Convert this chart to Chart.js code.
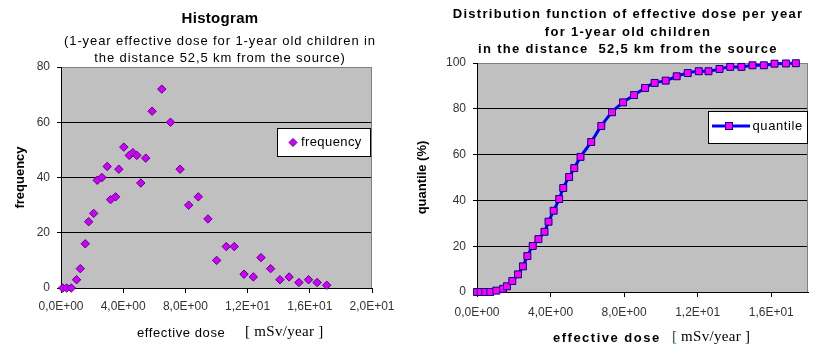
<!DOCTYPE html>
<html><head><meta charset="utf-8">
<script src="https://cdn.jsdelivr.net/npm/chart.js@4.4.1/dist/chart.umd.min.js"></script>
<style>
html,body{margin:0;padding:0;background:#fff;}
#wrap{position:relative;width:821px;height:360px;overflow:hidden;background:#fff;}
#c1{position:absolute;left:0;top:0;}
#c2{position:absolute;left:410px;top:0;}
</style></head><body>
<div id="wrap"><canvas id="c1" width="410" height="360"></canvas><canvas id="c2" width="411" height="360"></canvas></div>
<script>
// ---- data ----
const histDose = [0.11,0.36,0.66,1.0,1.24,1.56,1.78,2.10,2.33,2.63,2.97,3.19,3.51,3.72,4.04,4.39,4.62,4.88,5.13,5.45,5.86,6.48,7.04,7.66,8.21,8.83,9.45,10.01,10.63,11.14,11.77,12.37,12.86,13.48,14.08,14.67,15.3,15.92,16.47,17.09];
const histFrequency = [0,0,0,3,7,16,24,27,39,40,44,32,33,43,51,48,49,48,38,47,64,72,60,43,30,33,25,10,15,15,5,4,11,7,3,4,2,3,2,1];
const quantDose = [0,0.2,0.45,0.72,1.05,1.42,1.63,1.92,2.23,2.5,2.74,3.03,3.34,3.67,3.89,4.17,4.47,4.69,5.01,5.29,5.63,6.21,6.76,7.34,7.94,8.54,9.14,9.66,10.26,10.86,11.46,12.06,12.59,13.19,13.77,14.38,14.98,15.6,16.18,16.8,17.34];
const quantilePct = [0,0,0,0,0.6,1.4,2.5,4.8,7.7,11.2,15.7,20.1,23.1,26.3,30.7,35.5,40.6,45.4,50.2,54.1,59.0,65.5,72.5,78.5,82.8,86.0,89.1,91.3,92.3,94.2,95.6,96.4,96.4,97.4,98.3,98.3,99.0,99.0,99.7,99.8,99.9];
const histXTicks = [0,4,8,12,16,20];
const histXTickLabels = ['0,0E+00','4,0E+00','8,0E+00','1,2E+01','1,6E+01','2,0E+01'];
const histYTicks = [0,20,40,60,80];
const quantXTicks = [0,4,8,12,16];
const quantXTickLabels = ['0,0E+00','4,0E+00','8,0E+00','1,2E+01','1,6E+01'];
const quantYTicks = [0,20,40,60,80,100];

const SANS = "Arial, 'Liberation Sans', sans-serif";
const SERIF = "'Times New Roman', 'Liberation Serif', serif";

function txt(ctx, s, x, y, font, color, align, spacing) {
  ctx.save();
  ctx.font = font; ctx.fillStyle = color; ctx.textAlign = align || 'left'; ctx.textBaseline = 'middle';
  try { ctx.letterSpacing = (spacing || 0) + 'px'; } catch (e) {}
  ctx.fillText(s, x, y);
  ctx.restore();
}

function xScale(max, ticks, labels, pad) {
  return {
    type: 'linear', position: 'bottom', min: 0, max: max,
    afterBuildTicks: s => { s.ticks = ticks.map(v => ({ value: v })); },
    afterFit: s => { s.height = 30; },
    ticks: { callback: (v, i) => labels[i], font: { family: SANS, size: 12 }, color: '#333', padding: pad, maxRotation: 0, autoSkip: false },
    grid: { drawOnChartArea: false, drawTicks: true, tickLength: 5, color: '#000', lineWidth: 1 },
    border: { display: true, color: '#000', width: 1 }
  };
}
function yScale(max, ticks, title, titlePad, width) {
  return {
    type: 'linear', min: 0, max: max,
    afterBuildTicks: s => { s.ticks = ticks.map(v => ({ value: v })); },
    afterFit: s => { s.width = width; },
    ticks: { font: { family: SANS, size: 12 }, color: '#333', padding: 7 },
    grid: { color: c => (c.tick && c.tick.value === max) ? '#808080' : '#000', tickColor: '#000', tickLength: 4, drawTicks: true, lineWidth: 1 },
    border: { display: true, color: '#000', width: 1 },
    title: { display: true, text: title, font: { family: SANS, size: 13, weight: 'bold' }, color: '#000', padding: { top: titlePad, bottom: 0 } }
  };
}

const plotBg = {
  id: 'plotBg',
  beforeDraw(chart) {
    const { ctx, chartArea: a } = chart;
    ctx.save();
    ctx.fillStyle = '#fff'; ctx.fillRect(0, 0, chart.width, chart.height);
    ctx.fillStyle = '#c0c0c0'; ctx.fillRect(a.left, a.top, a.right - a.left, a.bottom - a.top);
    ctx.restore();
  },
  beforeDatasetsDraw(chart) {
    const { ctx, chartArea: a } = chart;
    ctx.save(); ctx.strokeStyle = '#808080'; ctx.lineWidth = 1;
    ctx.beginPath(); ctx.moveTo(Math.round(a.right) - 0.5, a.top); ctx.lineTo(Math.round(a.right) - 0.5, a.bottom); ctx.stroke();
    ctx.restore();
  }
};

// ---- left: histogram ----
const leftDecor = {
  id: 'leftDecor',
  afterDraw(chart) {
    const ctx = chart.ctx;
    txt(ctx, 'Histogram', 220, 19, 'bold 15px ' + SANS, '#000', 'center', 0.3);
    txt(ctx, '(1-year effective dose for 1-year old children in', 220, 41, '13px ' + SANS, '#000', 'center', 0.9);
    txt(ctx, 'the distance 52,5 km from the source)', 220, 58, '13px ' + SANS, '#000', 'center', 0.9);
    txt(ctx, 'effective dose', 137, 333, '13px ' + SANS, '#000', 'left', 0.6);
    txt(ctx, '[ mSv/year ]', 245, 332, '15px ' + SERIF, '#000', 'left', 0.3);
    // legend
    ctx.save();
    ctx.fillStyle = '#fff'; ctx.fillRect(277.5, 128.5, 93, 28);
    ctx.strokeStyle = '#000'; ctx.lineWidth = 1; ctx.strokeRect(277.5, 128.5, 93, 28);
    const ds = chart.data.datasets[0];
    ctx.beginPath(); ctx.moveTo(289, 142.5); ctx.lineTo(293, 138.5); ctx.lineTo(297, 142.5); ctx.lineTo(293, 146.5); ctx.closePath();
    ctx.fillStyle = ds.backgroundColor; ctx.fill(); ctx.strokeStyle = ds.borderColor; ctx.stroke();
    ctx.restore();
    txt(ctx, ds.label, 301, 142.5, '13px ' + SANS, '#000', 'left', 0.4);
  }
};
new Chart(document.getElementById('c1'), {
  type: 'scatter',
  data: { datasets: [{
    label: 'frequency',
    data: histDose.map((x, i) => ({ x: x, y: histFrequency[i] })),
    pointStyle: 'rectRot', pointRadius: 4.2, pointHoverRadius: 4.2,
    backgroundColor: '#d000ff', borderColor: '#5a0080', borderWidth: 1, clip: false
  }]},
  options: {
    responsive: false, animation: false, events: [],
    layout: { padding: { top: 67, left: 0, right: 38, bottom: 42 } },
    plugins: { legend: { display: false }, tooltip: { enabled: false } },
    scales: { x: xScale(20, histXTicks, histXTickLabels, 6), y: yScale(80, histYTicks, 'frequency', 13, 61) }
  },
  plugins: [plotBg, leftDecor]
});

// ---- right: distribution function ----
const rightDecor = {
  id: 'rightDecor',
  afterDraw(chart) {
    const ctx = chart.ctx;
    const f = 'bold 13px ' + SANS;
    txt(ctx, 'Distribution function of effective dose per year', 218, 14, f, '#000', 'center', 1.3);
    txt(ctx, 'for 1-year old children', 218, 32, f, '#000', 'center', 1.3);
    txt(ctx, 'in the distance  52,5 km from the source', 218, 49, f, '#000', 'center', 1.3);
    txt(ctx, 'effective dose', 143, 338, f, '#000', 'left', 1.5);
    txt(ctx, '[', 262, 337, '15px ' + SERIF, '#1a5c1a', 'left', 0);
    txt(ctx, ' mSv/year ]', 267, 337, '15px ' + SERIF, '#000', 'left', 0.3);
    // legend
    const ds = chart.data.datasets[0];
    ctx.save();
    ctx.fillStyle = '#fff'; ctx.fillRect(298.5, 111.5, 99, 32);
    ctx.strokeStyle = '#000'; ctx.lineWidth = 1; ctx.strokeRect(298.5, 111.5, 99, 32);
    ctx.strokeStyle = ds.borderColor; ctx.lineWidth = 3;
    ctx.beginPath(); ctx.moveTo(302, 126); ctx.lineTo(340, 126); ctx.stroke();
    ctx.fillStyle = ds.pointBackgroundColor; ctx.strokeStyle = ds.pointBorderColor; ctx.lineWidth = 1;
    ctx.fillRect(315.5, 122.5, 7, 7); ctx.strokeRect(315.5, 122.5, 7, 7);
    ctx.restore();
    txt(ctx, ds.label, 342.5, 126.5, '13px ' + SANS, '#000', 'left', 0.6);
  }
};
new Chart(document.getElementById('c2'), {
  type: 'scatter',
  data: { datasets: [{
    label: 'quantile',
    data: quantDose.map((x, i) => ({ x: x, y: quantilePct[i] })),
    showLine: true, cubicInterpolationMode: 'monotone',
    borderColor: '#0000ff', borderWidth: 3,
    pointStyle: 'rect', pointRadius: 4.9, pointHoverRadius: 4.9,
    pointBackgroundColor: '#ff00ff', pointBorderColor: '#000080', pointBorderWidth: 1, clip: false
  }]},
  options: {
    responsive: false, animation: false, events: [],
    layout: { padding: { top: 63, left: 0, right: 13, bottom: 38 } },
    plugins: { legend: { display: false }, tooltip: { enabled: false } },
    scales: { x: xScale(18, quantXTicks, quantXTickLabels, 8), y: yScale(100, quantYTicks, 'quantile (%)', 5, 67) }
  },
  plugins: [plotBg, rightDecor]
});
</script>
</body></html>
